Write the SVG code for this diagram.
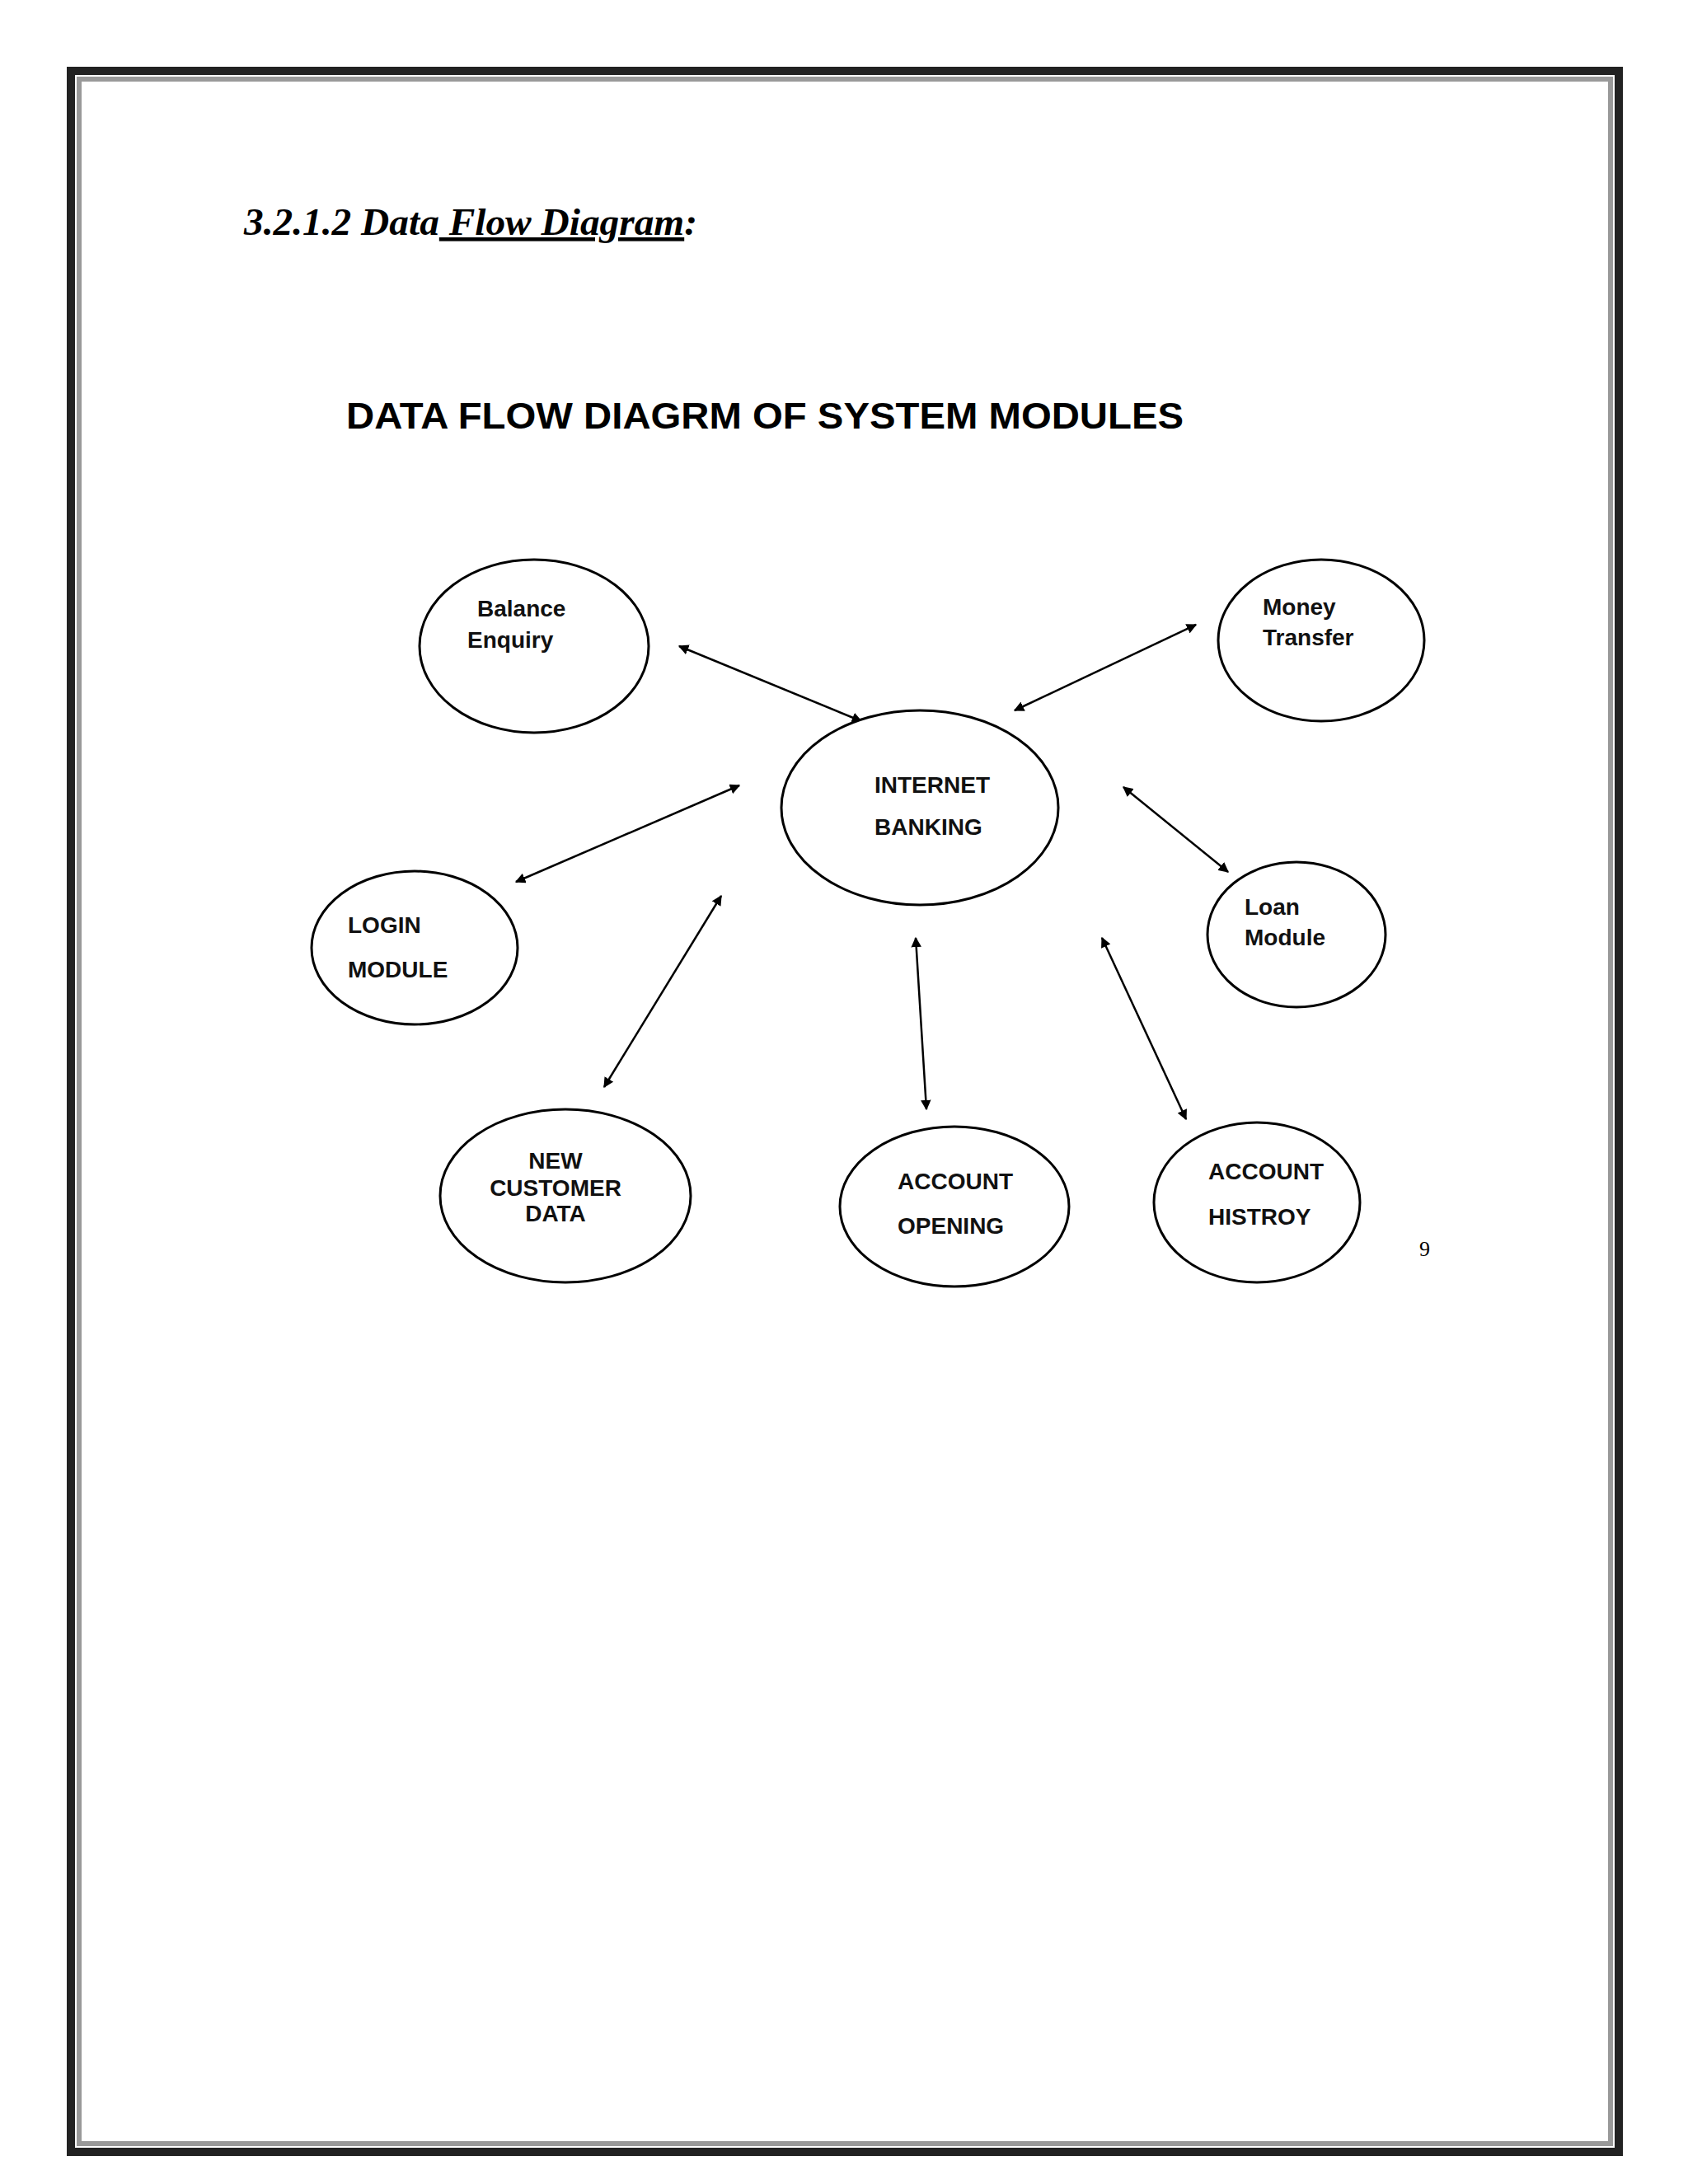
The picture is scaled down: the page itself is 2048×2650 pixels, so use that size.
<svg xmlns="http://www.w3.org/2000/svg" width="2048" height="2650" viewBox="0 0 2048 2650">
<style>
.n{fill:#fff;stroke:#000;stroke-width:3}
.t{font-family:"Liberation Sans",Arial,sans-serif;font-size:28px;font-weight:bold;fill:#111}
.c{stroke:#000;stroke-width:2.5;marker-start:url(#a);marker-end:url(#a)}
</style>
<defs><marker id="a" viewBox="0 0 10 10" refX="9" refY="5" markerWidth="5" markerHeight="5" orient="auto-start-reverse"><path d="M0,0L10,5L0,10z" fill="#000"/></marker></defs>
<rect width="2048" height="2650" fill="#fff"/>
<rect x="86" y="86" width="1878" height="2525" fill="none" stroke="#222" stroke-width="10"/>
<rect x="96" y="96" width="1858" height="2505" fill="none" stroke="#999" stroke-width="6"/>
<text x="296" y="285" font-family="Liberation Serif,serif" font-size="46" font-weight="bold" font-style="italic" textLength="550" lengthAdjust="spacingAndGlyphs">3.2.1.2 Data<tspan text-decoration="underline"> Flow Diagram</tspan>:</text>
<text x="420" y="520" font-family="Liberation Sans,sans-serif" font-size="44" font-weight="bold" textLength="1016" lengthAdjust="spacingAndGlyphs">DATA FLOW DIAGRM OF SYSTEM  MODULES</text>
<g id="connectors">
<line class="c" x1="824" y1="784" x2="1045" y2="875"/>
<line class="c" x1="1451" y1="758" x2="1231" y2="862"/>
<line class="c" x1="897" y1="953" x2="626" y2="1070"/>
<line class="c" x1="1363" y1="955" x2="1490" y2="1058"/>
<line class="c" x1="875" y1="1087" x2="733" y2="1319"/>
<line class="c" x1="1111" y1="1138" x2="1124" y2="1346"/>
<line class="c" x1="1337" y1="1138" x2="1439" y2="1358"/>
</g>
<g id="internet"><ellipse class="n" cx="1116" cy="980" rx="168" ry="118"/><text class="t" x="1061" y="962">INTERNET</text><text class="t" x="1061" y="1013">BANKING</text></g>
<g id="balance"><ellipse class="n" cx="648" cy="784" rx="139" ry="105"/><text class="t" x="579" y="748">Balance</text><text class="t" x="567" y="786">Enquiry</text></g>
<g id="money"><ellipse class="n" cx="1603" cy="777" rx="125" ry="98"/><text class="t" x="1532" y="746">Money</text><text class="t" x="1532" y="783">Transfer</text></g>
<g id="login"><ellipse class="n" cx="503" cy="1150" rx="125" ry="93"/><text class="t" x="422" y="1132">LOGIN</text><text class="t" x="422" y="1186">MODULE</text></g>
<g id="loan"><ellipse class="n" cx="1573" cy="1134" rx="108" ry="88"/><text class="t" x="1510" y="1110">Loan</text><text class="t" x="1510" y="1147">Module</text></g>
<g id="newcust"><ellipse class="n" cx="686" cy="1451" rx="152" ry="105"/><text class="t" text-anchor="middle" x="674" y="1418">NEW</text><text class="t" text-anchor="middle" x="674" y="1451">CUSTOMER</text><text class="t" text-anchor="middle" x="674" y="1482">DATA</text></g>
<g id="accopen"><ellipse class="n" cx="1158" cy="1464" rx="139" ry="97"/><text class="t" x="1089" y="1443">ACCOUNT</text><text class="t" x="1089" y="1497">OPENING</text></g>
<g id="acchist"><ellipse class="n" cx="1525" cy="1459" rx="125" ry="97"/><text class="t" x="1466" y="1431">ACCOUNT</text><text class="t" x="1466" y="1486">HISTROY</text></g>
<text x="1722" y="1524" font-family="Liberation Serif,serif" font-size="26">9</text>
</svg>
